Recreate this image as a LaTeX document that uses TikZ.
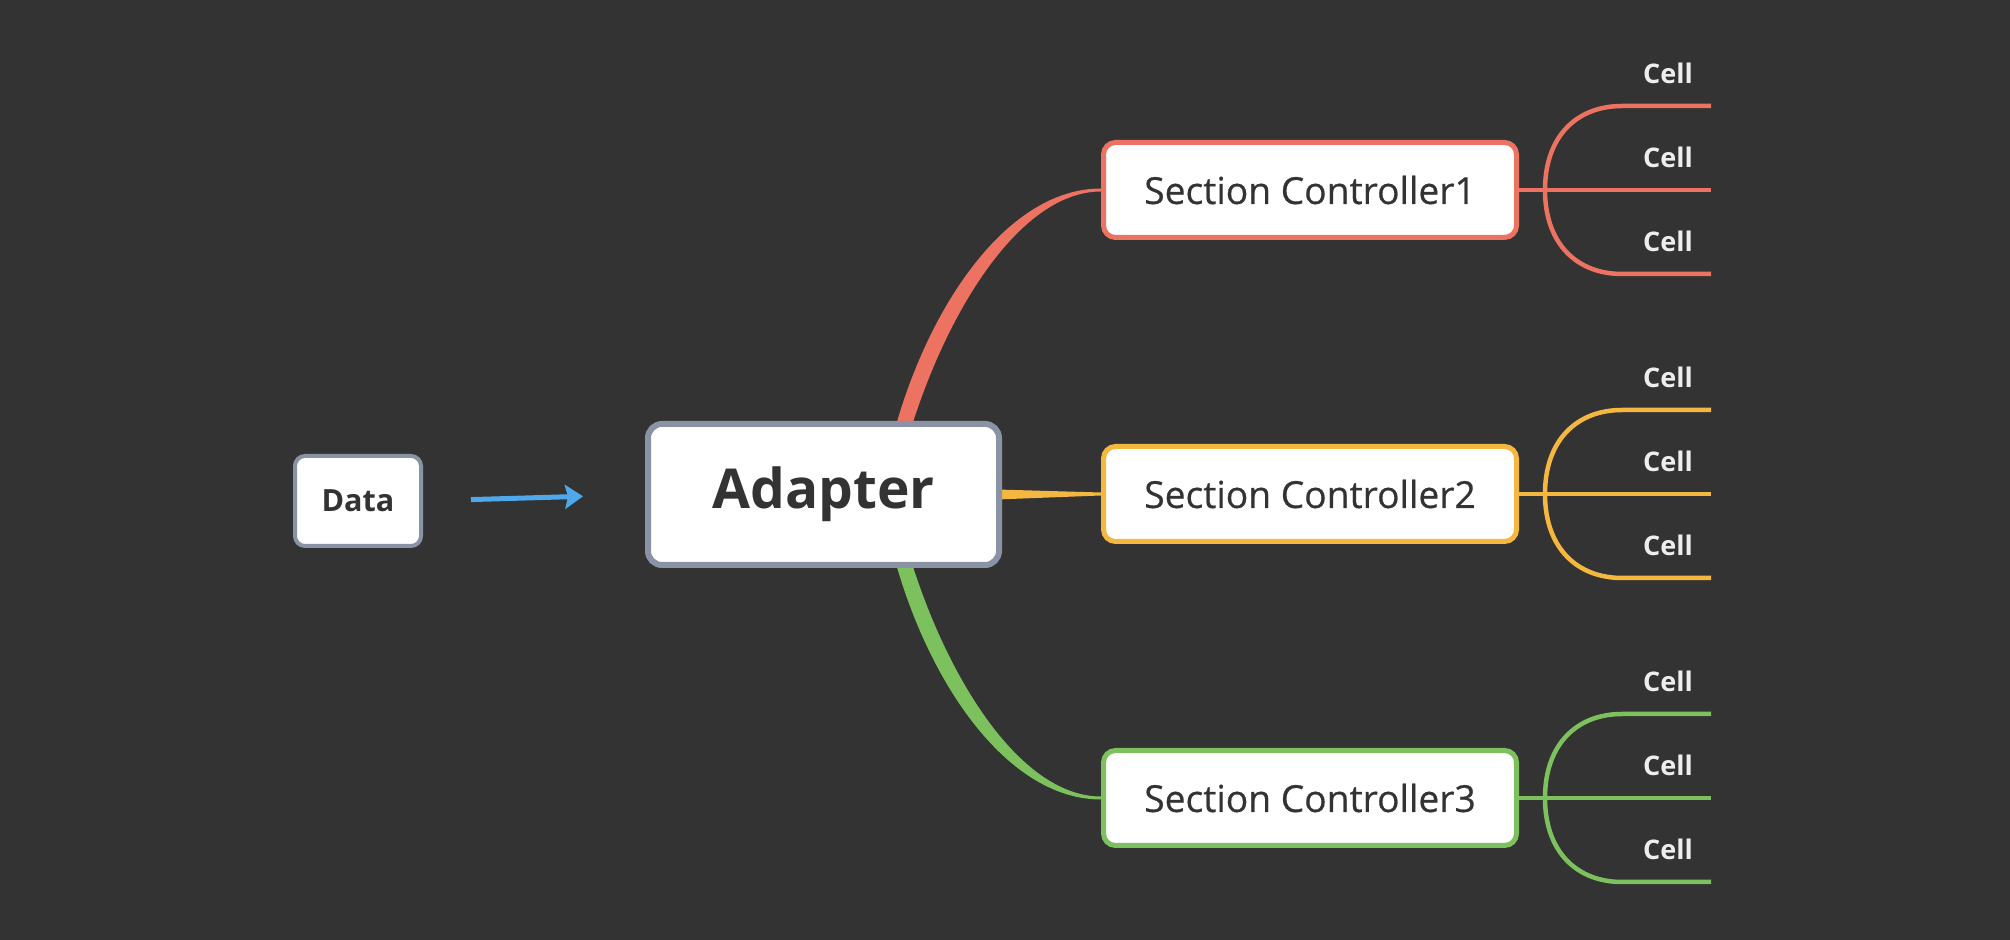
\documentclass[tikz,border=0pt]{standalone}
\usepackage{fontspec}
\setmainfont{Open Sans}
\newfontfamily\demigras[FakeBold=0.5]{Open Sans}
\usetikzlibrary{arrows.meta,calc}
\definecolor{fondsombre}{HTML}{333333}
\definecolor{encre}{HTML}{333333}
\definecolor{ardoise}{HTML}{8A93A6}
\definecolor{corail}{HTML}{EC7261}
\definecolor{ambre}{HTML}{F4B740}
\definecolor{pousse}{HTML}{7DC15E}
\definecolor{azur}{HTML}{4FA8EA}
\definecolor{craie}{HTML}{EEEEEE}
\pgfdeclarelayer{fond}
\pgfdeclarelayer{liens}
\pgfsetlayers{fond,liens,main}

\begin{document}
\begin{tikzpicture}[
    x=0.5pt,y=-0.5pt,
    source/.style = {rectangle,rounded corners=5pt,draw=ardoise,fill=white,line width=2pt,
                     minimum width=63pt,minimum height=45pt,text=encre,
                     font=\fontsize{15.3}{18}\selectfont\bfseries},
    centre/.style = {rectangle,rounded corners=7pt,draw=ardoise,fill=white,line width=3pt,
                     minimum width=175.5pt,minimum height=70.5pt,text=encre,
                     font=\fontsize{27.5}{32}\selectfont\bfseries},
    section/.style= {rectangle,rounded corners=6pt,draw=#1,fill=white,line width=2.5pt,
                     minimum width=206.5pt,minimum height=47.5pt,text=encre,
                     font=\fontsize{18.6}{22}\selectfont\demigras},
    cellule/.style= {text=craie,inner sep=0pt,font=\fontsize{13.5}{16}\selectfont\bfseries},
    brin/.style   = {draw=#1,line width=2.25pt},
    fleche/.style = {azur,line width=2.5pt,-{Stealth[length=9pt,width=12pt,inset=1.5pt]},
                     shorten <=24pt,shorten >=31pt},
  ]

  \useasboundingbox (0,0) rectangle (2010,940);
  \begin{pgfonlayer}{fond}
    \fill[fondsombre] (0,0) rectangle (2010,940);
  \end{pgfonlayer}

  % ── Source et adaptateur ──────────────────────────────────────────────────
  \node[source] (dat) at (358,501)   {Data};
  \node[centre] (ad)  at (823.5,494.5) {Adapter};

  \draw[fleche] (dat.east) -- (ad.west);

  % ── Contrôleurs de section ────────────────────────────────────────────────
  \node[section=corail] (sc1) at (1310,190) {Section Controller1};
  \node[section=ambre]  (sc2) at (1310,494) {Section Controller2};
  \node[section=pousse] (sc3) at (1310,798) {Section Controller3};

  \begin{pgfonlayer}{liens}
    \fill[corail] ($(ad.north)+(72,6)$) .. controls +(36,-127) and +(-91,0) .. ($(sc1.west)+(0,-1.5)$)
                  -- ($(sc1.west)+(0,1.5)$) .. controls +(-79,0) and +(38,-121) .. ($(ad.north)+(88,6)$) -- cycle;
    \fill[ambre]  ($(ad.east)+(-5,-5)$) -- ($(sc2.west)+(0,-1.5)$)
                  -- ($(sc2.west)+(0,1.5)$) -- ($(ad.east)+(-5,5)$) -- cycle;
    \fill[pousse] ($(ad.south)+(72,-6)$) .. controls +(36,127) and +(-91,0) .. ($(sc3.west)+(0,1.5)$)
                  -- ($(sc3.west)+(0,-1.5)$) .. controls +(-79,0) and +(38,121) .. ($(ad.south)+(88,-6)$) -- cycle;
  \end{pgfonlayer}

  % ── Cellules ──────────────────────────────────────────────────────────────
  \foreach \i/\col in {1/corail,2/ambre,3/pousse}{
    \coordinate (fk\i) at ($(sc\i.east)+(26,0)$);
    \coordinate (up\i) at ($(fk\i)+(166,-84)$);
    \coordinate (mi\i) at ($(fk\i)+(166,0)$);
    \coordinate (lo\i) at ($(fk\i)+(166,84)$);
    \draw[brin=\col] (sc\i.east) -- (fk\i) -- (mi\i);
    \draw[brin=\col] (up\i) -- ($(up\i)+(-89,0)$) .. controls +(-45,0) and +(0,-54) .. (fk\i)
                     .. controls +(0,54) and +(-45,0) .. ($(lo\i)+(-89,0)$) -- (lo\i);
    \node[cellule] (cu\i) at ($(up\i)+(-43,-33)$) {Cell};
    \node[cellule] (cm\i) at ($(mi\i)+(-43,-33)$) {Cell};
    \node[cellule] (cl\i) at ($(lo\i)+(-43,-33)$) {Cell};
  }

\end{tikzpicture}
\end{document}
